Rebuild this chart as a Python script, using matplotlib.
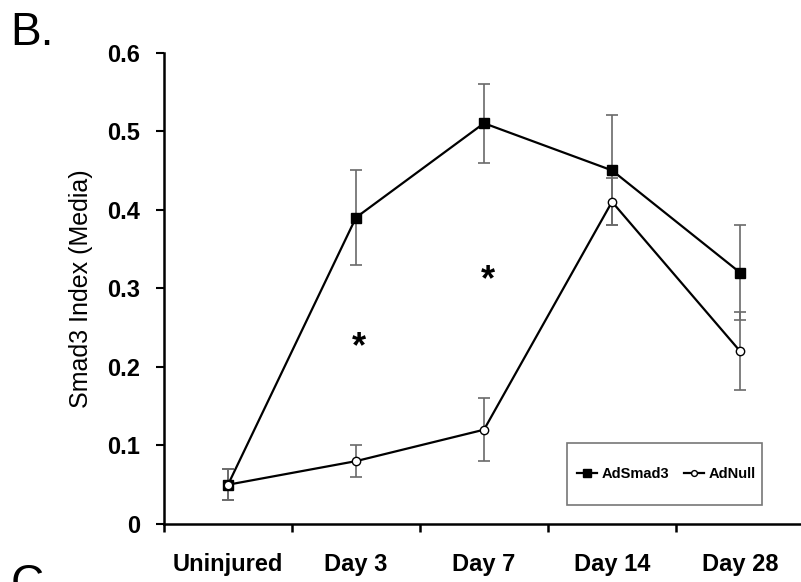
import matplotlib
matplotlib.use('Agg')
import matplotlib.pyplot as plt
from matplotlib.patches import Rectangle
import numpy as np

plt.rcParams['font.family'] = ['Liberation Sans', 'DejaVu Sans']

categories = ['Uninjured', 'Day 3', 'Day 7', 'Day 14', 'Day 28']
smad3 = [0.05, 0.39, 0.51, 0.45, 0.32]
smad3_err = [0.02, 0.06, 0.05, 0.07, 0.06]
null = [0.05, 0.08, 0.12, 0.41, 0.22]
null_err = [0.02, 0.02, 0.04, 0.03, 0.05]
# significance stars (x in category index, y in data units)
star_x = [1.02, 2.03]
star_y = [0.212, 0.297]

x = np.arange(len(categories))

fig = plt.figure(figsize=(8.01, 5.82), dpi=100)
ax = fig.add_axes([164 / 801, 1 - 524 / 582, 640 / 801, (524 - 52.5) / 582])

ebc = '#6a6a6a'
ax.errorbar(x, smad3, yerr=smad3_err, fmt='none', ecolor=ebc, elinewidth=1.2,
            capsize=4.5, capthick=1.2, zorder=2)
ax.errorbar(x, null, yerr=null_err, fmt='none', ecolor=ebc, elinewidth=1.2,
            capsize=4.5, capthick=1.2, zorder=2)
ax.plot(x, smad3, '-s', color='black', lw=1.6, ms=7.5, mfc='black',
        mec='black', label='AdSmad3', zorder=3)
ax.plot(x, null, '-o', color='black', lw=1.6, ms=6, mfc='white',
        mec='black', mew=1.0, label='AdNull', zorder=4)

for sx, sy in zip(star_x, star_y):
    ax.text(sx, sy, '*', fontsize=26, fontweight='bold', ha='center',
            va='baseline')

ax.set_xlim(-0.5, 4.5)
ax.set_ylim(0, 0.6)
ax.set_xticks(np.arange(-0.5, 5.0, 1.0))
ax.set_xticklabels([])
ax.set_xticks(x, minor=True)
ax.set_xticklabels(categories, minor=True, fontsize=17, fontweight='bold')
ax.tick_params(axis='x', which='minor', length=0, pad=21)
ax.tick_params(axis='x', which='major', direction='out', length=6, width=1.8)
ax.set_yticks([0, 0.1, 0.2, 0.3, 0.4, 0.5, 0.6])
ax.set_yticklabels(['0', '0.1', '0.2', '0.3', '0.4', '0.5', '0.6'],
                   fontsize=17, fontweight='bold')
ax.tick_params(axis='y', direction='out', length=6, width=1.5, pad=11)

for s in ['top', 'right']:
    ax.spines[s].set_visible(False)
for s in ['left', 'bottom']:
    ax.spines[s].set_linewidth(1.8)

ax.set_ylabel('Smad3 Index (Media)', fontsize=18)
ax.yaxis.set_label_coords(-0.111, 0.5)

# legend box
fig.patches.append(Rectangle((567 / 801, 1 - 505 / 582), 195 / 801, 62 / 582,
                             transform=fig.transFigure, fill=False,
                             edgecolor='#777777', lw=1.2))
fig.legend(loc='center', bbox_to_anchor=(666 / 801, 1 - 474 / 582),
           ncol=2, frameon=False, markerscale=0.7, handlelength=1.4,
           handletextpad=0.3, columnspacing=1.0,
           prop={'size': 10.5, 'weight': 'bold'})

fig.text(0.013, 1 - 45 / 582, 'B.', fontsize=33, va='baseline')
fig.text(0.013, 1 - 597 / 582, 'C.', fontsize=33, va='baseline')

fig.savefig('out.png', dpi=100)
